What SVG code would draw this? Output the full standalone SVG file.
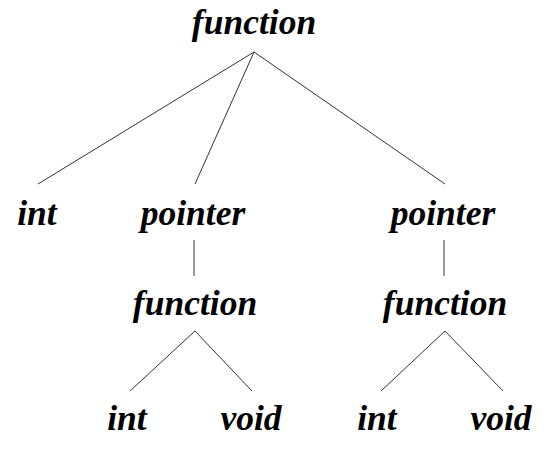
<svg xmlns="http://www.w3.org/2000/svg" width="550" height="449" viewBox="0 0 550 449">
<style>
text{font-family:"Liberation Serif","Times New Roman",serif;font-weight:bold;font-style:italic;font-size:35.5px;fill:#000;text-anchor:middle}
.e{stroke:#333;stroke-width:1;fill:none}
</style>
<rect width="550" height="449" fill="#fff"/>
<g id="connectors">
<line class="e" x1="254" y1="52" x2="38" y2="184"/>
<line class="e" x1="254" y1="52" x2="195" y2="184"/>
<line class="e" x1="254" y1="52" x2="445" y2="184"/>
<line class="e" x1="194" y1="240" x2="194" y2="276"/>
<line class="e" x1="444" y1="240" x2="444" y2="276"/>
<line class="e" x1="195" y1="331" x2="130" y2="391"/>
<line class="e" x1="195" y1="331" x2="252" y2="391"/>
<line class="e" x1="445" y1="331" x2="381" y2="391"/>
<line class="e" x1="445" y1="331" x2="503" y2="391"/>
</g>
<g id="n-root"><text x="254" y="34">function</text></g>
<g id="n-int1"><text x="37" y="225">int</text></g>
<g id="n-ptr1"><text x="193" y="225">pointer</text></g>
<g id="n-ptr2"><text x="443" y="225">pointer</text></g>
<g id="n-fn1"><text x="195" y="315">function</text></g>
<g id="n-fn2"><text x="445" y="315">function</text></g>
<g id="n-int2"><text x="127" y="430">int</text></g>
<g id="n-void1"><text x="251" y="430">void</text></g>
<g id="n-int3"><text x="377" y="430">int</text></g>
<g id="n-void2"><text x="501" y="430">void</text></g>
</svg>
